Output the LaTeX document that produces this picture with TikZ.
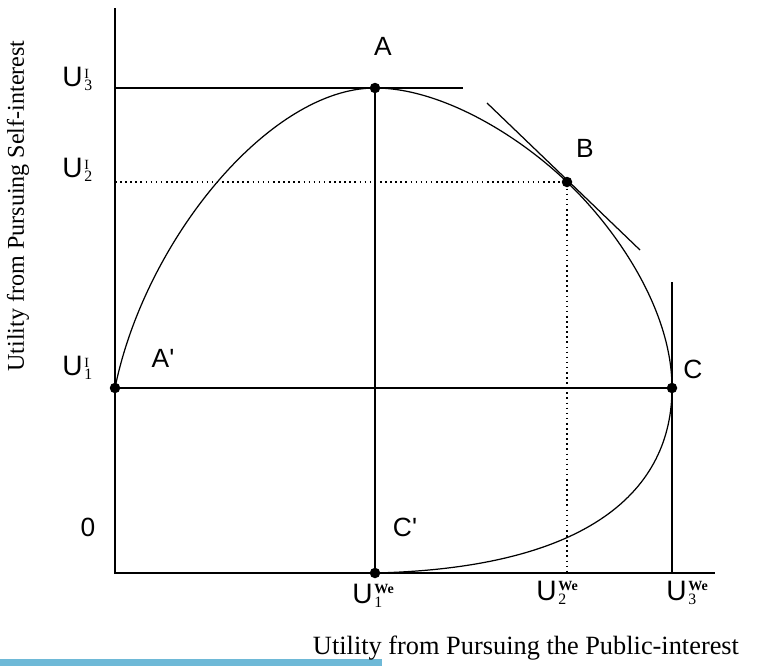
\documentclass[tikz,border=0pt]{standalone}
\usepackage{fontspec}
\setmainfont{Liberation Serif}
\setsansfont{Liberation Sans}
\definecolor{barblue}{RGB}{110,185,215}
% U with a small mark above and an index below
\newcommand{\ulab}[3]{\textsf{U}\kern1pt\rlap{\raisebox{-2.3pt}{\fontsize{9}{10}\selectfont #2}}\raisebox{#3}{\fontsize{8}{9}\selectfont #1}}

\begin{document}
\begin{tikzpicture}[x=0.02cm,y=-0.02cm]
	\tikzset{
		axis/.style={line width=1.4pt},
		guide/.style={line width=0.7pt},
		dotguide/.style={line width=0.9pt, dotted},
		frontier/.style={line width=0.7pt},
		pt/.style={circle, fill=black, inner sep=0pt, minimum size=0.21cm},
		lbl/.style={font=\sffamily\fontsize{15}{18}\selectfont, inner sep=0pt},
		ulbl/.style={font=\sffamily\fontsize{16}{18}\selectfont, inner sep=0pt, anchor=base west},
		title/.style={font=\fontsize{15}{18}\selectfont, inner sep=0pt}
	}
	\useasboundingbox (0,0) rectangle (764,666);
	\fill[barblue] (0,659) rectangle (382,666);

	% axes
	\coordinate (O) at (115,573);
	\coordinate (ytop) at (115,8);
	\coordinate (xend) at (715,573);
	\draw[axis] (ytop) -- (O) -- (xend);

	% points on the frontier
	\node[pt] (A) at (375,88) {};
	\node[pt] (B) at (567,182) {};
	\node[pt] (C) at (672,388) {};
	\node[pt] (Ap) at (115,388) {};
	\node[pt] (Cp) at (375,573) {};

	\coordinate (U3) at (115,88);
	\coordinate (Aend) at (463,88);
	\coordinate (Ctop) at (672,282);
	\coordinate (Cbot) at (672,573);
	\coordinate (U2) at (115,182);
	\coordinate (W2) at (567,573);
	\coordinate (T1) at (487,103);
	\coordinate (T2) at (640,250);

	\draw[guide] (U3) -- (Aend);
	\draw[guide] (A.center) -- (Cp.center);
	\draw[guide] (Ap.center) -- (C.center);
	\draw[guide] (Ctop) -- (Cbot);
	\draw[guide] (T1) -- (T2);
	\draw[dotguide] (U2) -- (B.center) -- (W2);

	\draw[frontier] (Ap.center) .. controls (145,240) and (270,88) .. (A.center)
		.. controls (440,88) and (517,134) .. (B.center)
		.. controls (617,230) and (672,310) .. (C.center)
		.. controls (672,490) and (590,568) .. (Cp.center);

	% point labels
	\node[lbl] (labA) at (383,46) {A};
	\node[lbl] (labB) at (585,148) {B};
	\node[lbl] (labC) at (693,369) {C};
	\node[lbl] (labAp) at (163,358) {A\textquotesingle};
	\node[lbl] (labCp) at (405,527) {C\textquotesingle};
	\node[lbl] (lab0) at (88,527) {0};

	% axis marks
	\node[ulbl] (u3) at (62,86) {\ulab{\rmfamily I}{\rmfamily 3}{4.5pt}};
	\node[ulbl] (u2) at (62,177) {\ulab{\rmfamily I}{\rmfamily 2}{4.5pt}};
	\node[ulbl] (u1) at (62,375) {\ulab{\rmfamily I}{\rmfamily 1}{4.5pt}};
	\node[ulbl] (w1) at (352,603) {\ulab{\rmfamily\bfseries We}{\rmfamily 1}{5.5pt}};
	\node[ulbl] (w2) at (536,600) {\ulab{\rmfamily\bfseries We}{\rmfamily 2}{5.5pt}};
	\node[ulbl] (w3) at (666,600) {\ulab{\rmfamily\bfseries We}{\rmfamily 3}{5.5pt}};

	% axis titles
	\node[title, anchor=base] (xtitle) at (526,654) {Utility from Pursuing the Public-interest};
	\node[title, rotate=90, font=\fontsize{13.7}{16}\selectfont] (ytitle) at (18,206) {Utility from Pursuing Self-interest};
\end{tikzpicture}
\end{document}
